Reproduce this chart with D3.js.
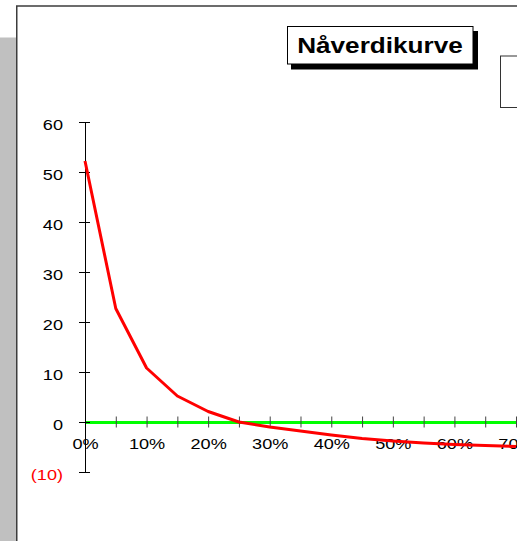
<!DOCTYPE html>
<html><head><meta charset="utf-8">
<script src="https://cdn.jsdelivr.net/npm/d3@7"></script>
<style>
html,body{margin:0;padding:0;background:#fff;overflow:hidden}
svg{display:block}
text{font-family:"Liberation Sans",Arial,sans-serif}
</style></head>
<body>
<script>
const title = "Nåverdikurve";
const rates = [0,5,10,15,20,25,30,35,40,45,50,55,60,65,70];
const npv = [52.2,22.7,10.8,5.2,2.1,0,-1.0,-1.8,-2.6,-3.3,-3.8,-4.2,-4.5,-4.7,-4.9];
const xTicks = [0,5,10,15,20,25,30,35,40,45,50,55,60,65,70];
const yTicks = [-10,0,10,20,30,40,50,60];

const W = 517, H = 541;
const svg = d3.select("body").append("svg").attr("width", W).attr("height", H);

// outer frame
svg.append("rect").attr("x",0).attr("y",37.5).attr("width",16).attr("height",H).attr("fill","#c0c0c0");
svg.append("path").attr("d",`M16.75,${H} V6 H${W}`).attr("fill","none").attr("stroke","#3c3c3c").attr("stroke-width",1.5);

const x = d3.scaleLinear().domain([0,80]).range([85, 85 + 80*6.157]);
const y = d3.scaleLinear().domain([-10,60]).range([472, 122]);
const SX = 1.17;

// x axis (green zero line with crossing ticks)
const gx = svg.append("g").attr("transform",`translate(0,${y(0)})`)
  .call(d3.axisBottom(x).tickValues(xTicks).tickSizeOuter(0).tickSizeInner(5.5)
    .tickFormat(d => d % 10 === 0 ? d + "%" : ""));
gx.select(".domain").attr("stroke","#00ff00").attr("stroke-width",3);
gx.selectAll(".tick line").attr("y1",-5.5).attr("y2",5.5).attr("stroke","#444");
gx.selectAll(".tick text").attr("y",27.5).attr("dy",null).attr("font-size",15.5)
  .attr("fill","#000").attr("font-family",'"Liberation Sans",Arial,sans-serif')
  .attr("transform",`scale(${SX},1)`);

// y axis
const gy = svg.append("g").attr("transform",`translate(${x(0)},0)`)
  .call(d3.axisLeft(y).tickValues(yTicks).tickSizeOuter(0).tickSizeInner(6)
    .tickFormat(d => d < 0 ? `(${-d})` : d));
gy.select(".domain").attr("stroke","#000");
gy.selectAll(".tick line").attr("x1",-6).attr("x2",5).attr("stroke","#000");
gy.selectAll(".tick text").attr("x",-22/SX).attr("dy",null).attr("y",7).attr("font-size",15.5)
  .attr("fill", d => d < 0 ? "#ff0000" : "#000")
  .attr("font-family",'"Liberation Sans",Arial,sans-serif')
  .attr("transform",`scale(${SX},1)`);

// NPV curve
const line = d3.line().x((d,i) => x(rates[i])).y(d => y(d));
svg.append("path").datum(npv).attr("d",line).attr("fill","none")
  .attr("stroke","#ff0000").attr("stroke-width",3).attr("stroke-linejoin","round");

// title box with shadow
svg.append("rect").attr("x",291).attr("y",31).attr("width",187).attr("height",38.5).attr("fill","#000");
svg.append("rect").attr("x",287.5).attr("y",26.5).attr("width",185.5).attr("height",37.5)
  .attr("fill","#fff").attr("stroke","#000").attr("stroke-width",1);
svg.append("text").attr("x",380/1.2).attr("y",53.5).attr("transform","scale(1.2,1)")
  .attr("text-anchor","middle").attr("font-weight","bold").attr("font-size",21.8)
  .attr("fill","#000").text(title);

// legend box (cut off at right)
svg.append("rect").attr("x",500.5).attr("y",56).attr("width",40).attr("height",51.5)
  .attr("fill","#fff").attr("stroke","#333").attr("stroke-width",1);
</script>
</body></html>
